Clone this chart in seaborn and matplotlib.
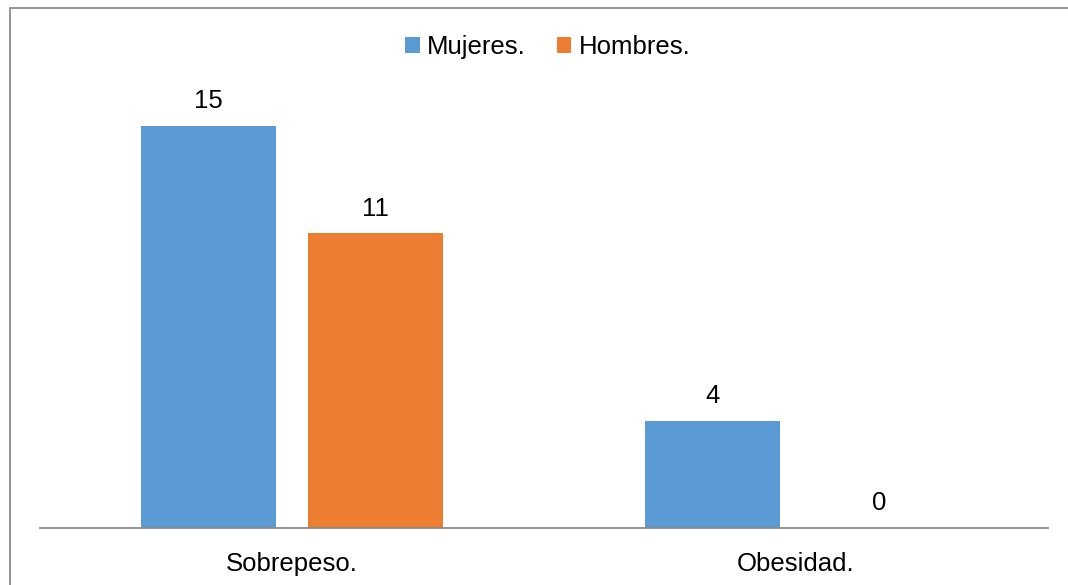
import pandas as pd
import seaborn as sns
import matplotlib.pyplot as plt
from matplotlib.patches import Rectangle, Patch

# Data
categories = ['Sobrepeso.', 'Obesidad.']
series_names = ['Mujeres.', 'Hombres.']
mujeres = [15, 4]
hombres = [11, 0]

colors = ['#5B9BD5', '#ED7D31']


def build_frame():
    rows = []
    for cat, m, h in zip(categories, mujeres, hombres):
        rows.append({'categoria': cat, 'sexo': series_names[0], 'valor': m})
        rows.append({'categoria': cat, 'sexo': series_names[1], 'valor': h})
    return pd.DataFrame(rows)


def main():
    df = build_frame()

    sns.set_theme(style="white")
    plt.rcParams['font.family'] = ['Liberation Sans', 'DejaVu Sans']
    plt.rcParams['text.color'] = 'black'

    fig = plt.figure(figsize=(10.68, 5.85), dpi=100)
    ax = fig.add_axes([40 / 1068, 1 - 528 / 585, 1008 / 1068, 468 / 585])

    sns.barplot(data=df, x='categoria', y='valor', hue='sexo',
                palette=colors, width=0.663, gap=0.197, saturation=1,
                linewidth=0, legend=False, ax=ax)

    for cont in ax.containers:
        ax.bar_label(cont, padding=9, fontsize=18.5, color='black')

    ax.set_xlim(-0.5, 1.5)
    ax.set_ylim(0, 468 / 26.8)
    ax.set_xlabel('')
    ax.set_ylabel('')
    ax.set_yticks([])
    ax.tick_params(axis='x', length=0, labelsize=18.5, pad=17, labelcolor='black')
    for side in ['top', 'left', 'right']:
        ax.spines[side].set_visible(False)
    ax.spines['bottom'].set_color('#898989')
    ax.spines['bottom'].set_linewidth(1.3)

    handles = [Patch(facecolor=c, edgecolor='none') for c in colors]
    fig.legend(handles, series_names, loc='center', bbox_to_anchor=(548 / 1068, 1 - 47 / 585),
               ncol=2, frameon=False, fontsize=18.5, handlelength=0.55, handleheight=0.55,
               handletextpad=0.3, columnspacing=1.2, labelcolor='black')

    # outer chart border
    fig.patches.append(Rectangle((10 / 1068, -0.05), 1.1, 1 - 8 / 585 + 0.05,
                                 transform=fig.transFigure, fill=False,
                                 edgecolor='#8c8c8c', linewidth=1.3))

    fig.savefig('out.png', dpi=100)


if __name__ == "__main__":
    main()
